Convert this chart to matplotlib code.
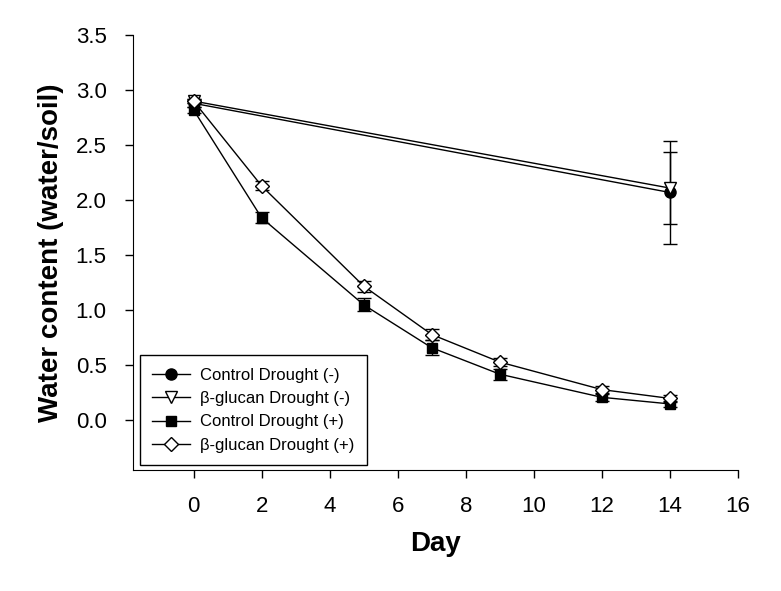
import matplotlib.pyplot as plt
from matplotlib.lines import Line2D
import numpy as np

plt.rcParams["font.family"] = ["Liberation Sans", "DejaVu Sans"]

# data
days_short = [0, 14]
ctrl_minus = [2.88, 2.07]
ctrl_minus_err = [0.03, 0.47]
glucan_minus = [2.90, 2.11]
glucan_minus_err = [0.02, 0.33]

days = [0, 2, 5, 7, 9, 12, 14]
ctrl_plus = [2.82, 1.84, 1.05, 0.66, 0.42, 0.21, 0.15]
ctrl_plus_err = [0.03, 0.05, 0.06, 0.07, 0.05, 0.03, 0.03]
glucan_plus = [2.90, 2.13, 1.22, 0.78, 0.53, 0.28, 0.20]
glucan_plus_err = [0.02, 0.04, 0.05, 0.05, 0.04, 0.03, 0.03]

labels = ["Control Drought (-)", "β-glucan Drought (-)",
          "Control Drought (+)", "β-glucan Drought (+)"]
markers = ["o", "v", "s", "D"]
faces = ["black", "white", "black", "white"]
msizes = [8, 8.5, 7.5, 7.5]

fig = plt.figure(figsize=(7.81, 5.91), dpi=100)
ax = fig.add_axes([133 / 781, 1 - 470 / 591, (738 - 133) / 781, (470 - 35) / 591])

series = [
    (days_short, ctrl_minus, ctrl_minus_err),
    (days_short, glucan_minus, glucan_minus_err),
    (days, ctrl_plus, ctrl_plus_err),
    (days, glucan_plus, glucan_plus_err),
]

for (x, y, e), m, fc, ms in zip(series, markers, faces, msizes):
    ax.errorbar(x, y, yerr=e, color="black", linewidth=1, ecolor="black",
                elinewidth=1, capsize=5, capthick=1, marker=m, markersize=ms,
                markerfacecolor=fc, markeredgecolor="black", markeredgewidth=1)

handles = [Line2D([], [], color="black", linewidth=1, marker=m, markersize=ms,
                  markerfacecolor=fc, markeredgecolor="black")
           for m, fc, ms in zip(markers, faces, msizes)]

ax.set_xlim(-1.78, 16)
ax.set_ylim(-0.45, 3.5)
ax.set_xticks(np.arange(0, 17, 2))
yt = np.arange(0, 3.51, 0.5)
ax.set_yticks(yt)
ax.set_yticklabels([f"{v:.1f}" for v in yt])

ax.spines["top"].set_visible(False)
ax.spines["right"].set_visible(False)
ax.tick_params(direction="out", length=6, width=1, labelsize=16, pad=13)

ax.set_xlabel("Day", fontsize=20, fontweight="bold", labelpad=10)
ax.set_ylabel("Water content (water/soil)", fontsize=20, fontweight="bold", labelpad=8)

leg = ax.legend(handles, labels, loc="lower left", bbox_to_anchor=(0.011, 0.011),
                fontsize=12, frameon=True, fancybox=False, edgecolor="black",
                framealpha=1, handlelength=2.3, handletextpad=0.6,
                borderpad=0.75, labelspacing=0.5, borderaxespad=0)
leg.get_frame().set_linewidth(1)

fig.savefig("out.png", dpi=100)
